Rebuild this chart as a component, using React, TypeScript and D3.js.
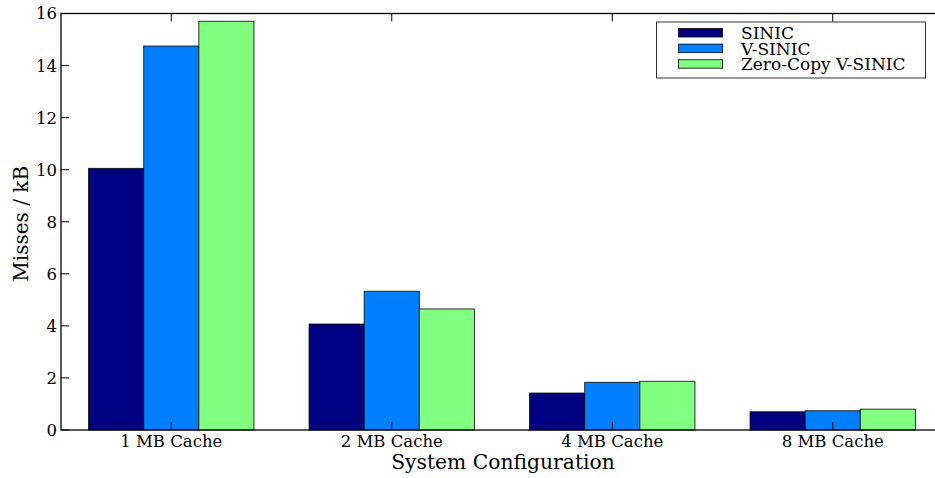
import React from "react";
import * as d3 from "d3";

const categories = ["1 MB Cache", "2 MB Cache", "4 MB Cache", "8 MB Cache"];
const seriesNames = ["SINIC", "V-SINIC", "Zero-Copy V-SINIC"];
const sinic = [10.05, 4.07, 1.42, 0.7];
const vSinic = [14.75, 5.33, 1.83, 0.74];
const zeroCopy = [15.7, 4.65, 1.87, 0.8];
const seriesColors = ["#000080", "#0080ff", "#80ff80"];
const yTicks = [0, 2, 4, 6, 8, 10, 12, 14, 16];

const W = 935;
const H = 478;
const margin = { left: 61, top: 13.5, right: 943, bottom: 430 };
const barWidth = 0.25;
const font = "'DejaVu Serif', serif";

export default function App() {
  const series = [sinic, vSinic, zeroCopy];
  const x = d3.scaleLinear().domain([-0.125, 3.875]).range([margin.left, margin.right]);
  const y = d3.scaleLinear().domain([0, 16]).range([margin.bottom, margin.top]);
  const tickLen = 8;

  return (
    <svg width={W} height={H} style={{ position: "absolute", left: 0, top: 0 }} fontFamily={font}>
      <rect width={W} height={H} fill="#fff" />
      {series.map((vals, si) =>
        vals.map((v, ci) => {
          const x0 = x(ci + si * barWidth);
          const x1 = x(ci + (si + 1) * barWidth);
          return (
            <rect
              key={`${si}-${ci}`}
              x={x0}
              y={y(v)}
              width={x1 - x0}
              height={y(0) - y(v)}
              fill={seriesColors[si]}
              stroke="#000"
              strokeOpacity={0.8}
              strokeWidth={1}
            />
          );
        })
      )}
      {/* frame */}
      <rect
        x={margin.left}
        y={margin.top}
        width={margin.right - margin.left}
        height={margin.bottom - margin.top}
        fill="none"
        stroke="#000"
        strokeWidth={1.3}
      />
      {/* y ticks */}
      {yTicks.map((t) => (
        <g key={t}>
          <line x1={margin.left} x2={margin.left + tickLen} y1={y(t)} y2={y(t)} stroke="#000" />
          <line x1={margin.right - tickLen} x2={margin.right} y1={y(t)} y2={y(t)} stroke="#000" />
          <text x={margin.left - 4} y={y(t)} dy="0.36em" textAnchor="end" fontSize={16.5} fill="#000">
            {t}
          </text>
        </g>
      ))}
      {/* x ticks */}
      {categories.map((c, i) => {
        const cx = x(i + 1.5 * barWidth);
        return (
          <g key={c}>
            <line x1={cx} x2={cx} y1={margin.bottom} y2={margin.bottom - tickLen} stroke="#000" />
            <line x1={cx} x2={cx} y1={margin.top} y2={margin.top + tickLen} stroke="#000" />
            <text x={cx} y={447} textAnchor="middle" fontSize={16.5} fill="#000">
              {c}
            </text>
          </g>
        );
      })}
      <text x={(margin.left + margin.right) / 2 + 1} y={469} textAnchor="middle" fontSize={20.3} fill="#000">
        System Configuration
      </text>
      <text
        transform={`translate(28, ${(margin.top + margin.bottom) / 2 + 2}) rotate(-90)`}
        textAnchor="middle"
        fontSize={20}
        fill="#000"
      >
        Misses / kB
      </text>
      {/* legend */}
      <g>
        <rect x={656.5} y={22} width={269} height={56} fill="#fff" stroke="#000" strokeOpacity={0.8} strokeWidth={1} />
        {seriesNames.map((n, i) => {
          const ry = 33 + i * 15.6;
          return (
            <g key={n}>
              <rect x={678.5} y={ry - 4.5} width={44} height={8.5} fill={seriesColors[i]} stroke="#000" strokeOpacity={0.8} />
              <text x={741} y={ry} dy="0.36em" fontSize={17} fill="#000">
                {n}
              </text>
            </g>
          );
        })}
      </g>
    </svg>
  );
}
